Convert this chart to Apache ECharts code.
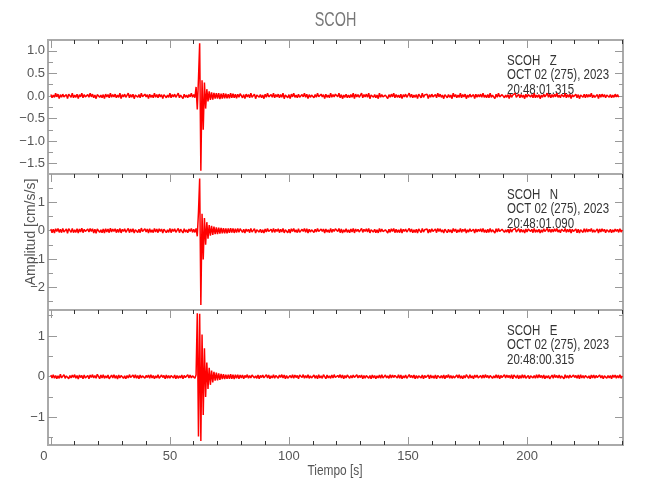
<!DOCTYPE html>
<html>
<head>
<meta charset="utf-8">
<title>SCOH</title>
<script src="https://cdn.jsdelivr.net/npm/echarts@6/dist/echarts.min.js"></script>
<style>
  html, body { margin: 0; padding: 0; background: #fff; }
  #chart { width: 650px; height: 500px; }
</style>
</head>
<body>
<div id="chart"></div>
<script>
// estacion y encabezados de cada componente
const estacion = 'SCOH';
const componentes = ['Z', 'N', 'E'];
const fecha = 'OCT 02 (275), 2023';
const horaInicio = ['20:48:01.315', '20:48:01.090', '20:48:00.315'];

// muestreo de las trazas (s)
const dt = 0.5;

// ticks
const xMayores = [0, 50, 100, 150, 200];
const xMenores = [10, 20, 30, 40, 60, 70, 80, 90, 110, 120, 130, 140, 160, 170, 180, 190, 210, 220, 230, 240];
const yMayoresZ = [-1.5, -1, -0.5, 0, 0.5, 1];
const yMenoresZ = [-1.25, -0.75, -0.25, 0.25, 0.75];
const yMayoresN = [-2, -1, 0, 1];
const yMenoresN = [-2.5, -1.5, -0.5, 0.5, 1.5];
const yMayoresE = [-1, 0, 1];
const yMenoresE = [-1.5, -0.5, 0.5, 1.5];

// amplitudes en centesimas de cm/s/s, una muestra cada dt
const ampZ = [
  3,-4,2,-3,6,-2,4,-6,3,-3,
  4,-2,-4,3,-6,4,2,-3,6,-4,
  2,-3,4,-6,3,-2,6,-4,3,-2,
  -4,3,-3,6,-2,4,-4,2,-6,3,
  4,-3,2,-4,3,-6,4,-2,3,-4,
  6,-3,3,-2,4,-4,2,-3,6,-6,
  3,-2,4,-3,-2,6,-4,3,-3,4,
  -6,2,4,-3,3,-4,6,-2,-3,4,
  -2,3,-6,4,-3,2,-4,6,-3,3,
  -4,4,-2,3,-6,3,4,-4,2,-3,
  6,-4,3,-2,4,-3,-3,6,-4,2,
  3,-6,4,-3,2,-4,3,-2,6,-3,
  3,-4,20,-30,38,117,-166,35,-75,30,
  -28,15,-12,10,-9,8,-8,7,-6,6,
  -6,6,-7,5,-6,6,-5,5,-5,4,
  -5,6,-4,5,-4,4,-5,4,-3,5,
  6,-4,3,-6,4,-2,3,-4,6,-3,
  -3,4,-6,2,4,-3,3,-4,2,-6,
  4,-3,6,-2,-4,3,-3,6,-4,3,
  -2,4,-4,3,-3,6,-6,2,3,-4,
  3,-6,4,-2,6,-3,2,-4,4,-3,
  -4,3,-2,6,-3,4,-6,3,-3,2,
  4,-4,3,-3,6,-2,-4,4,-2,3,
  -6,4,-3,2,-4,6,-3,3,-2,4,
  3,-2,6,-4,3,-6,2,-3,4,-4,
  2,-4,3,-3,6,-6,4,-2,3,-3,
  -3,6,-4,3,-2,4,-3,6,-6,2,
  4,-3,3,-4,2,-6,6,-3,3,-2,
  -4,2,4,-6,3,-3,4,-2,6,-4,
  3,-3,2,-4,4,-6,3,-2,4,-3,
  -2,6,-3,4,-4,2,-3,3,-6,4,
  3,-4,6,-3,2,-2,4,-6,3,-3,
  4,-2,-3,3,-4,6,-2,4,-3,2,
  -6,3,4,-4,3,-3,2,-6,6,-2,
  3,-4,2,-3,6,-4,3,-2,4,-6,
  2,-3,4,-2,-4,3,-6,4,-3,3,
  -2,4,-3,6,-3,2,-4,3,-4,6,
  -3,2,3,-6,4,-3,6,-2,-4,3,
  4,-4,2,-3,3,-6,4,-3,2,-2,
  6,-3,-2,4,-4,3,-3,2,-6,4,
  -3,3,4,-2,3,-4,6,-4,2,-3,
  3,-6,2,-3,4,-2,-4,6,-3,4,
  -4,3,-3,4,-2,6,-3,2,-4,3,
  2,-2,6,-4,3,-3,4,-6,3,-2,
  -3,4,-4,3,-6,2,3,-3,4,-4,
  4,-3,3,-2,6,-4,2,-3,-2,3,
  -6,4,-3,4,-2,3,-4,2,6,-3,
  3,-4,2,-3,4,-2,3,-3
];

const ampN = [
  6,-7,5,-8,7,-3,8,-6,5,-7,
  8,-5,-7,6,-9,7,3,-6,8,-7,
  3,-6,7,-8,6,-5,9,-7,5,-3,
  -7,6,-5,8,-3,7,-8,5,-9,6,
  7,-6,3,-7,6,-8,7,-5,6,-7,
  9,-5,6,-3,7,-7,5,-6,8,-8,
  5,-3,7,-6,-5,8,-7,6,-5,7,
  -8,3,7,-6,5,-7,9,-3,-6,7,
  -5,6,-8,7,-6,3,-7,8,-5,6,
  -7,7,-3,6,-8,5,7,-7,3,-6,
  8,-7,6,-3,7,-6,-5,8,-7,5,
  6,-8,7,-5,3,-7,6,-3,8,-6,
  5,-6,8,-20,66,184,-262,60,-102,45,
  -50,30,-28,20,-18,17,-15,14,-12,12,
  -12,11,-10,10,-9,9,-9,8,-9,8,
  -8,9,-7,8,-8,7,-7,8,-6,7,
  7,-6,5,-8,6,-3,5,-7,8,-5,
  -5,7,-8,3,6,-5,5,-7,3,-8,
  6,-5,8,-3,-7,5,-6,8,-6,5,
  -3,7,-7,5,-5,8,-8,3,6,-7,
  5,-8,7,-3,8,-5,3,-7,7,-6,
  -7,5,-3,8,-6,7,-8,5,-5,3,
  7,-6,5,-5,8,-3,-7,6,-3,6,
  -8,6,-5,3,-7,8,-6,5,-3,7,
  5,-3,8,-7,6,-8,3,-5,7,-6,
  3,-7,6,-5,8,-8,6,-3,5,-5,
  -5,8,-6,5,-3,7,-5,8,-8,3,
  6,-5,5,-7,3,-8,8,-5,6,-3,
  -7,3,6,-8,5,-6,7,-3,8,-7,
  5,-6,3,-7,7,-8,5,-3,6,-5,
  -3,8,-5,6,-7,3,-6,5,-8,6,
  5,-7,8,-5,3,-3,6,-8,5,-6,
  7,-3,-5,6,-7,8,-3,7,-5,3,
  -8,5,6,-7,5,-5,3,-8,8,-3,
  6,-7,3,-5,8,-6,5,-3,7,-8,
  3,-5,7,-3,-6,5,-8,6,-5,5,
  -3,7,-5,8,-6,3,-7,5,-6,8,
  -5,3,6,-8,7,-5,8,-3,-7,5,
  6,-6,3,-5,5,-8,7,-5,3,-3,
  8,-5,-3,7,-6,5,-5,3,-8,6,
  -5,6,7,-3,5,-7,8,-6,3,-5,
  5,-8,3,-6,7,-3,-7,8,-5,6,
  -6,5,-5,7,-3,8,-5,3,-7,5,
  3,-3,8,-6,5,-5,6,-8,5,-3,
  -5,6,-7,5,-8,3,5,-6,7,-6,
  7,-5,5,-3,8,-6,3,-5,-3,6,
  -8,6,-5,7,-3,5,-7,3,8,-5,
  5,-7,3,-5,6,-3,5,-6,7,-5,
  3
];

const ampE = [
  4,-3,5,-4,3,-5,2,-4,6,-3,
  -3,5,-4,2,4,-5,3,-3,4,-2,
  5,-4,3,-6,4,-2,3,-5,4,-3,
  -4,3,-5,4,-2,5,-3,3,-4,6,
  3,-5,4,-3,5,-4,2,-3,4,-5,
  -2,4,-3,5,-4,3,-6,4,-3,3,
  4,-4,2,-5,3,-3,5,-2,-4,4,
  -3,5,-4,3,-5,4,-3,2,5,-4,
  3,-2,4,-4,5,-3,3,-5,2,-3,
  5,-4,-3,4,-2,3,-5,4,-4,3,
  -4,3,5,-3,4,-5,3,-4,2,-3,
  4,-5,3,-2,-4,5,-3,4,-3,2,
  3,-4,5,156,-147,155,-158,104,-94,70,
  -50,35,-30,22,-20,15,-14,12,-10,10,
  -9,8,-8,7,-6,6,-6,5,-5,5,
  -5,6,-5,5,-6,5,-4,5,-5,4,
  -3,4,-5,3,-2,5,-4,3,-3,4,
  5,-3,2,-4,4,-5,3,-2,4,-3,
  -4,5,-3,4,-5,2,-3,5,-4,3,
  3,-4,4,-2,5,-3,4,-5,3,-4,
  -5,3,-3,5,-4,4,-2,3,-5,4,
  4,-2,5,-4,3,-3,5,-4,2,-3,
  -3,4,-4,3,-5,5,-3,2,-4,5,
  3,-5,4,-3,2,-4,4,-3,5,-2,
  -4,3,-2,5,-3,4,-5,3,-3,4,
  5,-4,3,-3,4,-2,-4,5,-3,3,
  -2,4,-5,3,-4,3,5,-4,3,-5,
  4,-3,3,-5,2,-3,4,-4,5,-3,
  -5,4,-3,2,-4,5,-3,4,-2,3,
  3,-3,5,-4,4,-5,2,-3,4,-4,
  -4,5,-2,3,-3,4,-5,3,-4,2,
  5,-3,4,-5,3,-2,-3,4,-5,4,
  -3,2,-4,4,-5,3,4,-3,3,-4,
  4,-5,3,-2,5,-4,3,-4,2,-3,
  -2,4,-3,5,-4,2,-5,3,-3,5,
  3,-4,5,-3,2,-5,4,-2,4,-3,
  -5,3,-4,4,-3,5,-2,3,-4,3,
  4,-4,2,-3,5,-3,4,-5,3,-2,
  -3,5,-3,4,-2,3,-4,5,-5,4,
  2,-3,4,-5,3,-4,5,-3,4,-4,
  -4,3,-5,2,4,-3,3,-4,5,-3,
  5,-2,3,-4,4,-5,2,-3,3,-5,
  -3,4,-4,5,-2,3,-3,4,-4,2,
  4,-5,5,-3,3,-4,4,-2,-3,4,
  -2,3,-4,4,-5,5,-3,3,-4,3,
  5,-3,2,-5,4,-3,4,-4,3,-2,
  -4,4,-3,3,-5,2,5,-4,3,-3,
  3,-5,4,-2,4,-4,3,-3,5,-4,
  2
];

const FUENTE = "'Liberation Sans', Arial, sans-serif";
const X_MIN = -1.2;
const X_MAX = 240.3;

const paneles = [
  { top: 40, height: 134, min: -1.73, max: 1.24, mayores: yMayoresZ, menores: yMenoresZ, datos: ampZ, dec: 1 },
  { top: 174, height: 136, min: -2.8, max: 2.0, mayores: yMayoresN, menores: yMenoresN, datos: ampN, dec: 0 },
  { top: 310, height: 135, min: -1.68, max: 1.64, mayores: yMayoresE, menores: yMenoresE, datos: ampE, dec: 0 }
];

const textoEje = { fontFamily: FUENTE, fontSize: 13, color: '#555' };

function ejeX(g, pos, valores, largo, color, etiquetas) {
  return {
    type: 'value', gridIndex: g, position: pos, min: X_MIN, max: X_MAX,
    axisLine: { show: false, onZero: false },
    splitLine: { show: false },
    axisTick: { show: true, inside: true, length: largo, customValues: valores, lineStyle: { color: color, width: 1 } },
    axisLabel: etiquetas ? Object.assign({
      show: true, customValues: valores, margin: 5,
      formatter: v => v === 0 ? '{c|0}' : String(v),
      rich: { c: Object.assign({ padding: [0, 14, 0, 0] }, textoEje) }
    }, textoEje) : { show: false }
  };
}

function ejeY(g, p, pos, valores, largo, etiquetas) {
  return {
    type: 'value', gridIndex: g, position: pos, min: p.min, max: p.max,
    axisLine: { show: false, onZero: false },
    splitLine: { show: false },
    axisTick: { show: true, inside: true, length: largo, customValues: valores, lineStyle: { color: '#999', width: 1 } },
    axisLabel: etiquetas ? Object.assign({
      show: true, customValues: valores, margin: 3,
      formatter: v => (p.dec ? v.toFixed(p.dec) : String(v)).replace('-', '\u2212')
    }, textoEje) : { show: false }
  };
}

const grids = [], xAxes = [], yAxes = [], series = [], graficos = [];

paneles.forEach((p, g) => {
  grids.push({
    left: 48, right: 27, top: p.top, height: p.height,
    show: true, borderColor: '#aaa', borderWidth: 2, backgroundColor: 'transparent'
  });
  const xi = xAxes.length;
  xAxes.push(ejeX(g, 'top', xMayores, 8, '#999', false));
  xAxes.push(ejeX(g, 'top', xMenores, 4, '#333', false));
  if (g === paneles.length - 1) {
    xAxes.push(ejeX(g, 'bottom', xMayores, 8, '#999', true));
    xAxes.push(ejeX(g, 'bottom', xMenores, 4, '#333', false));
  }
  const yi = yAxes.length;
  yAxes.push(ejeY(g, p, 'left', p.mayores, 9, true));
  yAxes.push(ejeY(g, p, 'left', p.menores, 5, false));
  yAxes.push(ejeY(g, p, 'right', p.mayores, 8, false));
  yAxes.push(ejeY(g, p, 'right', p.menores, 4, false));

  series.push({
    name: estacion + ' ' + componentes[g],
    type: 'line',
    xAxisIndex: xi,
    yAxisIndex: yi,
    data: p.datos.map((v, i) => [i * dt, v / 100]),
    showSymbol: false,
    symbol: 'none',
    lineStyle: { color: '#ff0000', width: 1.5 },
    z: 5
  });

  graficos.push({
    type: 'text',
    x: 507, y: p.top + 13.5,
    scaleX: 0.82,
    z: 1,
    style: {
      text: estacion + '   ' + componentes[g] + '\n' + fecha + '\n' + horaInicio[g],
      font: '14px ' + FUENTE,
      lineHeight: 14.5,
      fill: '#333',
      align: 'left',
      verticalAlign: 'top'
    }
  });
});

graficos.push({
  type: 'text', x: 335.5, y: 20, scaleX: 0.72,
  style: { text: estacion, font: '20px ' + FUENTE, fill: '#777', align: 'center', verticalAlign: 'middle' }
});
graficos.push({
  type: 'text', x: 335, y: 471, scaleX: 0.85,
  style: { text: 'Tiempo [s]', font: '14px ' + FUENTE, fill: '#555', align: 'center', verticalAlign: 'middle' }
});
graficos.push({
  type: 'text', x: 31, y: 232, rotation: Math.PI / 2,
  style: { text: 'Amplitud [cm/s/s]', font: '14px ' + FUENTE, fill: '#555', align: 'center', verticalAlign: 'middle' }
});

const chart = echarts.init(document.getElementById('chart'));
chart.setOption({
  animation: false,
  backgroundColor: '#fff',
  grid: grids,
  xAxis: xAxes,
  yAxis: yAxes,
  series: series,
  graphic: graficos
});
</script>
</body>
</html>
